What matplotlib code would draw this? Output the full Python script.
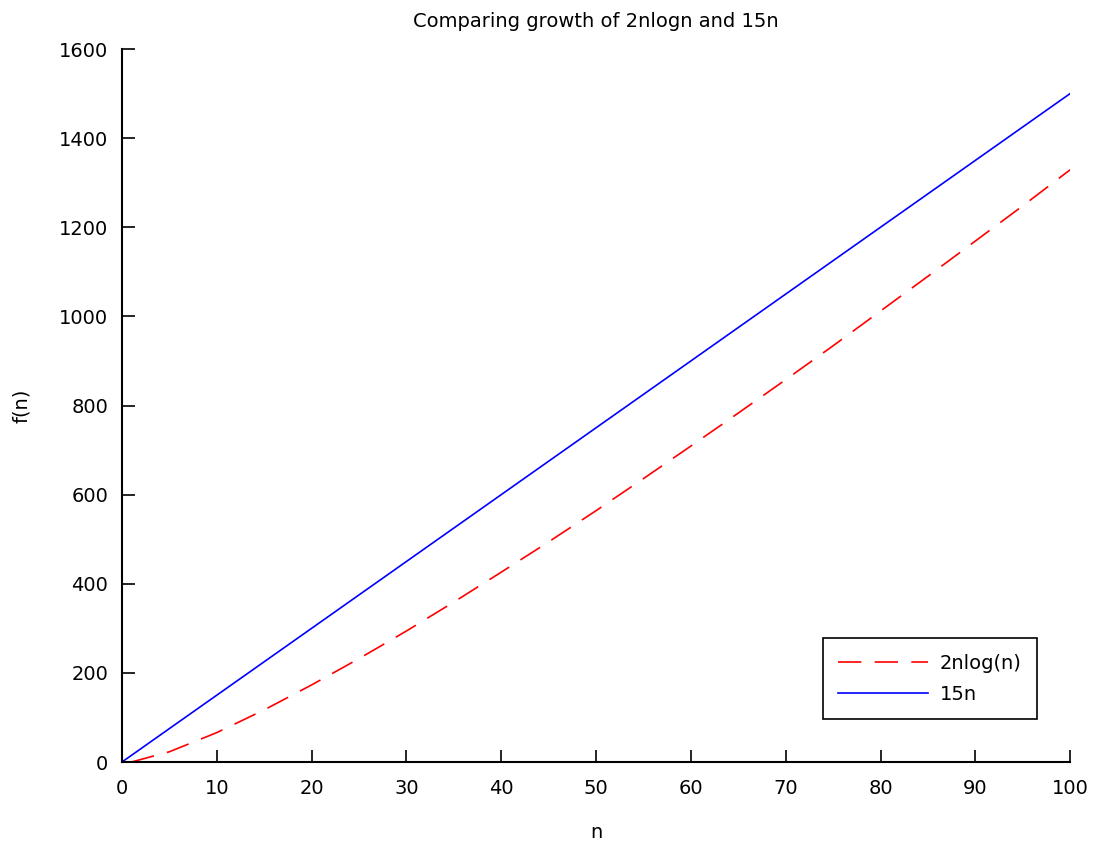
import matplotlib.pyplot as plt

# values
n_red = [1, 5, 10, 15, 20, 25, 30, 35, 40, 45, 50, 55, 60, 65, 70, 75, 80, 85, 90, 95, 100]
f_red = [0, 23, 66, 117, 173, 232, 294, 359, 426, 494, 564, 636, 709, 783, 858, 934, 1012, 1090, 1169, 1248, 1329]

n_blue = [0, 100]
f_blue = [0, 1500]

x_ticks = [0, 10, 20, 30, 40, 50, 60, 70, 80, 90, 100]
y_ticks = [0, 200, 400, 600, 800, 1000, 1200, 1400, 1600]

plt.rcParams['font.family'] = ['DejaVu Sans']
plt.rcParams['font.size'] = 14

fig = plt.figure(figsize=(10.96, 8.42), dpi=100)
ax = fig.add_axes([0.1113, 0.095, 0.8651, 0.8468])

ax.plot(n_red, f_red, color='red', linestyle=(0, (14, 8)), linewidth=1.2, label='2nlog(n)')
ax.plot(n_blue, f_blue, color='blue', linewidth=1.2, label='15n')

ax.set_xlim(0, 100)
ax.set_ylim(0, 1600)
ax.set_xticks(x_ticks)
ax.set_yticks(y_ticks)
ax.spines['top'].set_visible(False)
ax.spines['right'].set_visible(False)
ax.spines['left'].set_linewidth(1.5)
ax.spines['bottom'].set_linewidth(1.5)
ax.tick_params(axis='x', direction='in', length=9, width=1.2, labelsize=14, pad=12)
ax.tick_params(axis='y', direction='in', length=9, width=1.2, labelsize=14, pad=10)

ax.set_title('Comparing growth of 2nlogn and 15n', fontsize=14, pad=16)
ax.set_xlabel('n', fontsize=14, labelpad=18)
ax.set_ylabel('f(n)', fontsize=14, labelpad=20)

leg = ax.legend(loc='lower right', bbox_to_anchor=(0.965, 0.06), borderaxespad=0,
                fancybox=False, framealpha=1, edgecolor='black', fontsize=14,
                handlelength=4.6, handletextpad=0.6, borderpad=0.8, labelspacing=0.6)
leg.get_frame().set_linewidth(1.2)

fig.savefig('out.png', dpi=100)
